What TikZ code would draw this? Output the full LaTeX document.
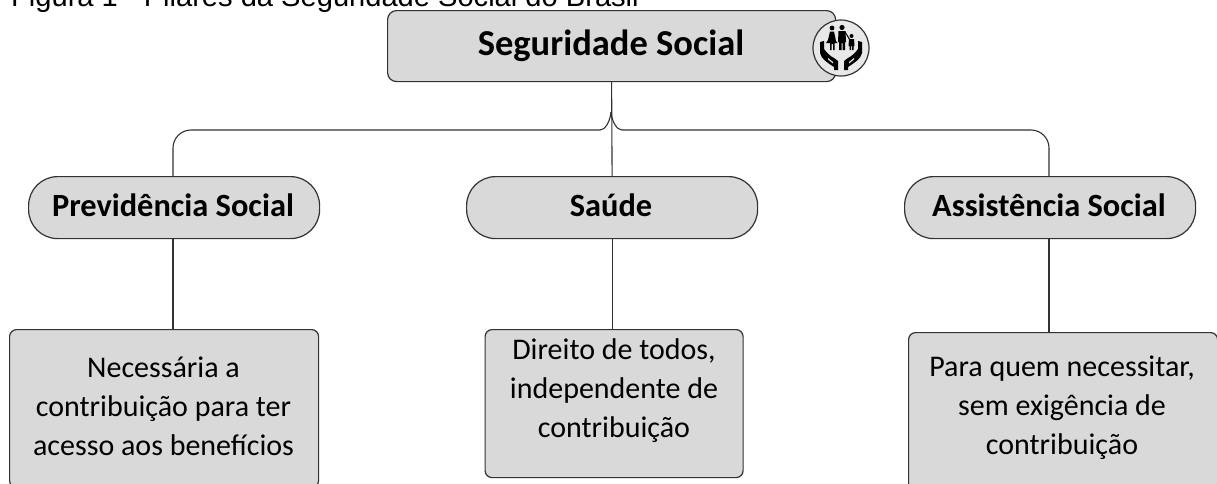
\documentclass[tikz,border=0pt]{standalone}
\usepackage{fontspec}
\setmainfont{Carlito}
\newfontfamily\titlefont{Liberation Sans}
\definecolor{boxgray}{RGB}{217,217,217}
\definecolor{linegray}{RGB}{50,50,50}
\definecolor{emblemgray}{RGB}{232,232,232}
\tikzset{
  x=1pt,y=-1pt,
  shapebox/.style={draw=linegray,line width=1.2pt,fill=boxgray,anchor=north west,inner sep=0pt,align=center,text=black,font=\fontsize{30}{39}\selectfont},
  topbox/.style={shapebox,rounded corners=9pt,font=\fontsize{36.5}{40}\selectfont\bfseries},
  pill/.style={shapebox,rounded corners=29pt,font=\fontsize{32.4}{36}\selectfont\bfseries},
  infobox/.style={shapebox,rounded corners=7pt},
  boxtext/.style={inner sep=0pt,align=center,font=\fontsize{30}{39}\selectfont},
  link/.style={draw=linegray,line width=1.1pt},
}
\begin{document}
\begin{tikzpicture}
\useasboundingbox (0,0) rectangle (1217,483);
\fill[white] (0,0) rectangle (1217,483);
\node[anchor=base west,inner sep=0pt,font=\titlefont\fontsize{29.1}{32}\selectfont] (title) at (11,6) {Figura 1 - Pilares da Seguridade Social do Brasil};
\coordinate (hub) at (611,112);
\coordinate (elbowL) at (173,130);
\coordinate (elbowR) at (1049,130);
\node[topbox,minimum width=448pt,minimum height=71pt] (top) at (387,10) {};
\node[inner sep=0pt,font=\fontsize{36.5}{40}\selectfont\bfseries] (toptext) at (611,46) {Seguridade Social};
\node[pill,minimum width=291pt,minimum height=62pt] (p1) at (28,176) {};
\node[pill,minimum width=291pt,minimum height=62pt] (p2) at (466,176) {};
\node[pill,minimum width=291pt,minimum height=62pt] (p3) at (904,176) {};
\node[inner sep=0pt,font=\fontsize{32.4}{36}\selectfont\bfseries] (pt1) at (173,205.5) {Previdência Social};
\node[inner sep=0pt,font=\fontsize{32.4}{36}\selectfont\bfseries] (pt2) at (611,205.5) {Saúde};
\node[inner sep=0pt,font=\fontsize{32.4}{36}\selectfont\bfseries] (pt3) at (1049,205.5) {Assistência Social};
\node[infobox,minimum width=309pt,minimum height=158pt] (b1) at (9,329) {};
\node[infobox,minimum width=258pt,minimum height=148pt] (b2) at (484.5,329) {};
\node[infobox,minimum width=309pt,minimum height=158pt] (b3) at (908,332) {};
\node[boxtext] (t1) at (163.5,406) {Necessária a\\contribuição para ter\\acesso aos benefícios};
\node[boxtext] (t2) at (614,391) {Direito de todos,\\independente de\\contribuição};
\node[boxtext] (t3) at (1062,408) {Para quem necessitar,\\sem exigência de\\contribuição};
\draw[link] (top.south) -- (p2.north);
\draw[link,rounded corners=18pt] (p1.north -| elbowL) -- (elbowL) -- (600,130);
\draw[link] (600,130) .. controls (605,130) and (610,122) .. (hub);
\draw[link,rounded corners=18pt] (p3.north -| elbowR) -- (elbowR) -- (622,130);
\draw[link] (622,130) .. controls (617,130) and (612,122) .. (hub);
\draw[link] (p1.south -| elbowL) -- (b1.north -| elbowL);
\draw[link] (p2.south) -- (p2.south |- b2.north);
\draw[link] (p3.south -| elbowR) -- (b3.north -| elbowR);
\begin{scope}[shift={(841,48)}]
\node[circle,draw=linegray,line width=1.2pt,fill=emblemgray,minimum size=56pt,inner sep=0pt] (emblem) at (0,0) {};
\fill[black] (-9,-20) circle (2.4);
\fill[black] (1,-20.5) circle (2.6);
\fill[black] (10.5,-12) circle (2);
\fill[black] (-11,-16.5) -- (-7,-16.5) -- (-5,-7) -- (-3.5,-5) -- (-6.5,-5) -- (-6.5,2) -- (-8,2) -- (-8,-4) -- (-9.5,-4) -- (-9.5,2) -- (-11,2) -- (-11,-5) -- (-15,-5) -- (-13,-8) -- cycle;
\fill[black] (-2.5,-17) -- (4.5,-17) -- (5,-6) -- (4,-6) -- (4,2) -- (1.5,2) -- (1.5,-5) -- (0.5,-5) -- (0.5,2) -- (-2,2) -- (-2,-6) -- (-3,-6) -- cycle;
\draw[black,line width=1pt] (4,-16) -- (9,-8);
\fill[black] (8,-9) -- (13,-9) -- (13.5,-2) -- (12.5,-2) -- (12.5,2) -- (11,2) -- (11,-2) -- (10,-2) -- (10,2) -- (8.5,2) -- (8.5,-2) -- (7.5,-2) -- cycle;
\fill[black] (-21,-6) -- (-17,-7) -- (-17,1) .. controls (-14,5) and (-11,8) .. (-7,10) -- (-3,13) -- (-3,22) -- (-7,22) -- (-7,19) .. controls (-13,15) and (-20,11) .. (-21,5) -- cycle;
\fill[emblemgray] (-13,10) -- (-8,14) -- (-8,15.5) -- (-13,11.5) -- cycle;
\fill[black] (21,-6) -- (17,-7) -- (17,1) .. controls (14,5) and (11,8) .. (7,10) -- (3,13) -- (3,22) -- (7,22) -- (7,19) .. controls (13,15) and (20,11) .. (21,5) -- cycle;
\fill[emblemgray] (13,10) -- (8,14) -- (8,15.5) -- (13,11.5) -- cycle;
\end{scope}
\end{tikzpicture}
\end{document}
